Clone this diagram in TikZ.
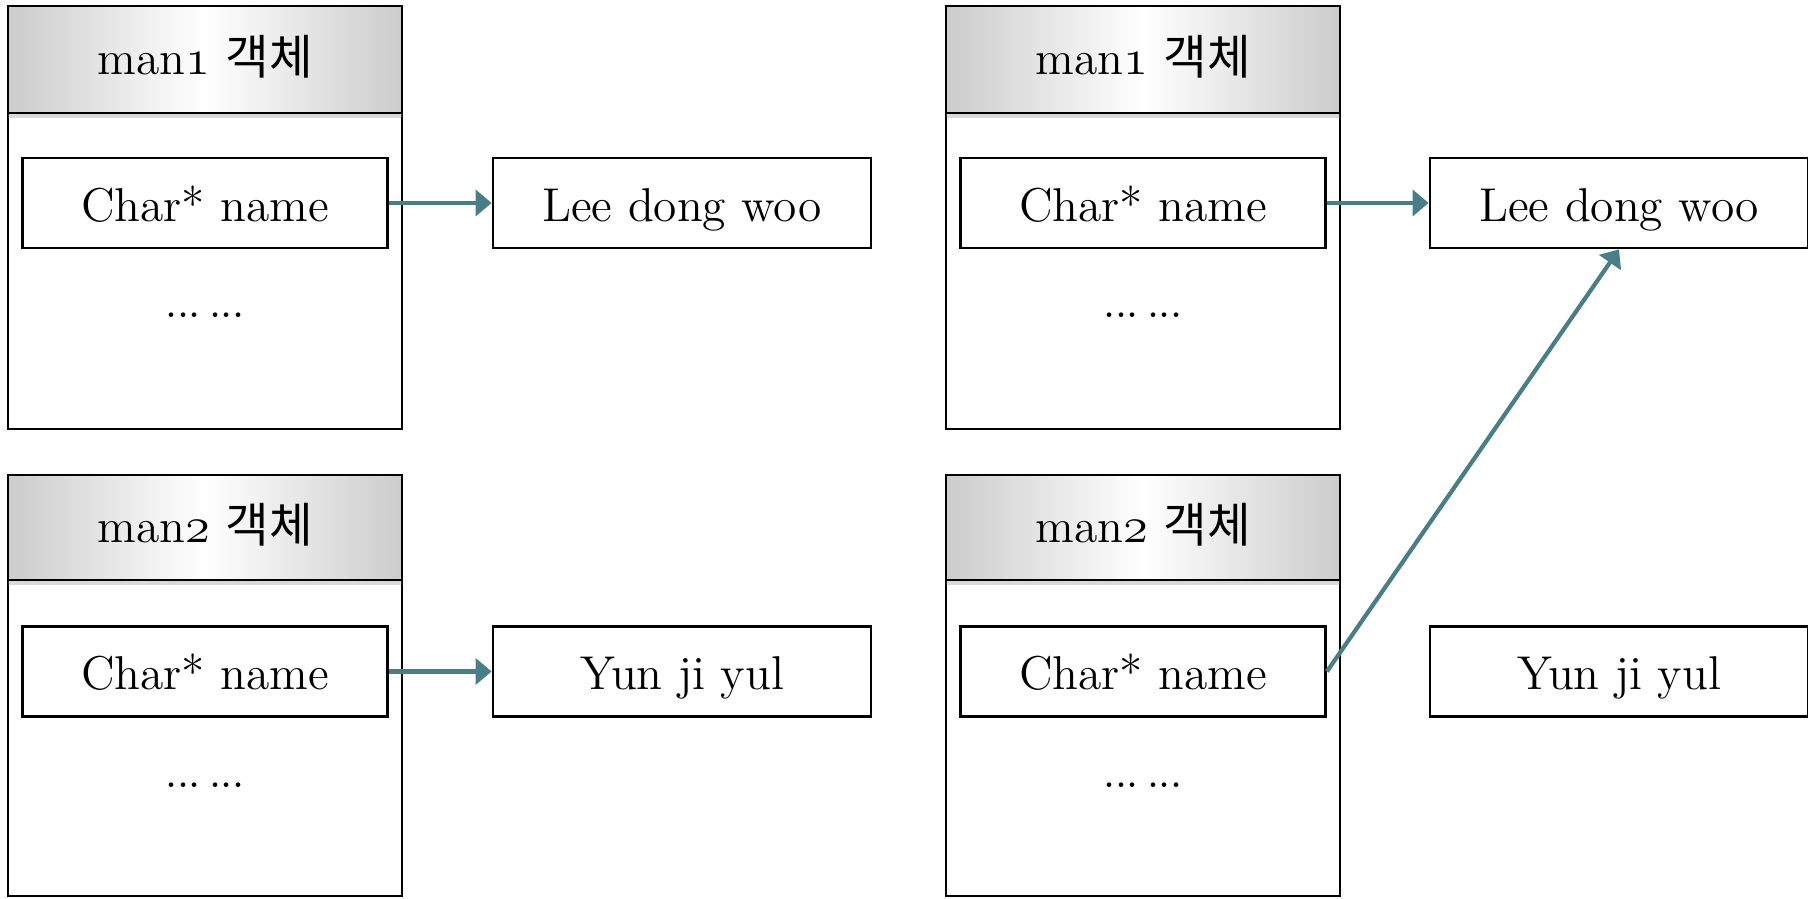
\documentclass[tikz,border=0pt]{standalone}
\usepackage{fontspec}
\newfontfamily\kor{Noto Sans CJK KR}
\usetikzlibrary{arrows.meta,shadows}
\definecolor{ArrowTeal}{RGB}{74,126,134}
\definecolor{HeadGray}{RGB}{204,204,204}
\newcommand{\osf}[1]{{\usefont{OML}{cmm}{m}{it}#1}}
\newcommand{\etc}{{\fontsize{16}{18}\selectfont.\kern-0.8pt.\kern-0.8pt.\kern2.05pt.\kern-0.8pt.\kern-0.8pt.}}
\tikzset{
  objbox/.style={draw,line width=0.8pt,minimum width=3.94cm,minimum height=4.23cm,inner sep=0pt},
  headbox/.style={draw,line width=0.8pt,minimum width=3.94cm,minimum height=1.07cm,inner sep=0pt,
    text height=8.8pt,text depth=0pt,
    left color=HeadGray,right color=HeadGray,middle color=white,
    drop shadow={shadow xshift=0pt,shadow yshift=-1.5pt,opacity=0.3}},
  fieldbox/.style={draw,line width=0.8pt,minimum width=3.65cm,minimum height=0.9cm,inner sep=0pt,
    text height=10.5pt,text depth=0pt},
  strbox/.style={fieldbox,minimum width=3.78cm},
  dotsnode/.style={anchor=base,inner sep=0pt},
  ptr/.style={draw=ArrowTeal,line width=1.2pt,-{Triangle[length=1.6mm,width=2.6mm,fill=ArrowTeal]}}
}
\begin{document}
\begin{tikzpicture}[font=\fontsize{13.5}{16}\selectfont]
  \useasboundingbox (0,0) rectangle (18.08,8.98);
  % left: each object owns its string
  \node[objbox] (obj1) at (2.05,6.805) {};
  \node[headbox,anchor=north] (head1) at (obj1.north) {man\osf{1} {\kor 객체}};
  \node[fieldbox] (field1) at (2.05,6.95) {Char* name};
  \node[dotsnode] (dots1) at (2.05,5.80) {\etc};
  \node[strbox] (str1) at (6.82,6.95) {Lee dong woo};
  \node[objbox,minimum height=4.21cm] (obj2) at (2.05,2.125) {};
  \node[headbox,anchor=north,minimum height=1.05cm] (head2) at (obj2.north) {man\osf{2} {\kor 객체}};
  \node[fieldbox] (field2) at (2.05,2.265) {Char* name};
  \node[dotsnode] (dots2) at (2.05,1.11) {\etc};
  \node[strbox] (str2) at (6.82,2.265) {Yun ji yul};
  % right: both point to one string
  \node[objbox] (obj3) at (11.43,6.805) {};
  \node[headbox,anchor=north] (head3) at (obj3.north) {man\osf{1} {\kor 객체}};
  \node[fieldbox] (field3) at (11.43,6.95) {Char* name};
  \node[dotsnode] (dots3) at (11.43,5.80) {\etc};
  \node[strbox] (str3) at (16.19,6.95) {Lee dong woo};
  \node[objbox,minimum height=4.21cm] (obj4) at (11.43,2.125) {};
  \node[headbox,anchor=north,minimum height=1.05cm] (head4) at (obj4.north) {man\osf{2} {\kor 객체}};
  \node[fieldbox] (field4) at (11.43,2.265) {Char* name};
  \node[dotsnode] (dots4) at (11.43,1.11) {\etc};
  \node[strbox] (str4) at (16.19,2.265) {Yun ji yul};
  % pointers
  \draw[ptr] (field1.east) -- (str1.west);
  \draw[ptr] (field2.east) -- (str2.west);
  \draw[ptr] (field3.east) -- (str3.west);
  \draw[ptr] (field4.east) -- (str3.south);
\end{tikzpicture}
\end{document}
